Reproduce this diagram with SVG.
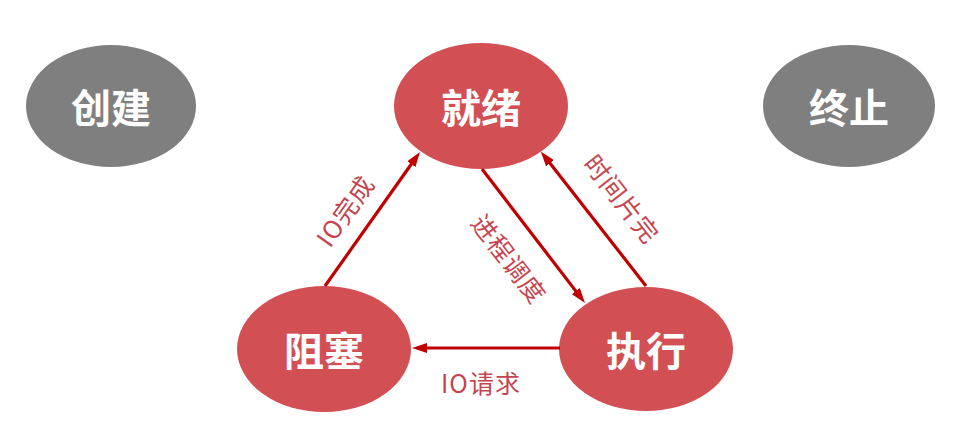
<svg xmlns="http://www.w3.org/2000/svg" width="969" height="429" viewBox="0 0 969 429">
<defs>
<style>
.gray{fill:#7f7f7f}
.red{fill:#d24f54}
.nt{font-family:"Noto Sans CJK SC","Noto Sans",sans-serif;font-weight:bold;font-size:40px;fill:#ffffff;text-anchor:middle;dominant-baseline:central}
.lbl{font-family:"Noto Sans CJK SC","Noto Sans",sans-serif;font-weight:normal;font-size:25px;letter-spacing:1px;fill:#c4454f;text-anchor:middle;dominant-baseline:central}
.edge{stroke:#c00000;stroke-width:3.2;fill:none;marker-end:url(#ah)}
</style>
<marker id="ah" markerUnits="userSpaceOnUse" markerWidth="15" markerHeight="10" refX="6" refY="5" orient="auto">
<path d="M0,0 L15,5 L0,10 z" fill="#c00000"/>
</marker>
</defs>
<rect width="969" height="429" fill="#ffffff"/>
<g id="create"><ellipse class="gray" cx="111" cy="106" rx="85" ry="61"/><text class="nt" x="111" y="106">创建</text></g>
<g id="ready"><ellipse class="red" cx="481" cy="106" rx="87" ry="63"/><text class="nt" x="481" y="106">就绪</text></g>
<g id="terminate"><ellipse class="gray" cx="849" cy="106" rx="86" ry="61"/><text class="nt" x="849" y="106">终止</text></g>
<g id="blocked"><ellipse class="red" cx="324" cy="349" rx="87" ry="63"/><text class="nt" x="324" y="349">阻塞</text></g>
<g id="running"><ellipse class="red" cx="646" cy="349" rx="87" ry="62"/><text class="nt" x="646" y="349">执行</text></g>
<g id="connectors">
<line class="edge" x1="325" y1="286" x2="414.8" y2="159.3"/>
<line class="edge" x1="482" y1="169" x2="579.5" y2="295.9"/>
<line class="edge" x1="646" y1="286" x2="546.3" y2="158.5"/>
<line class="edge" x1="560" y1="348" x2="421" y2="348"/>
<text class="lbl" x="344" y="210" transform="rotate(-54.7 344 210)">IO完成</text>
<text class="lbl" x="510" y="258" transform="rotate(52.4 510 258)">进程调度</text>
<text class="lbl" x="623" y="198" transform="rotate(52 623 198)">时间片完</text>
<text class="lbl" x="481" y="382">IO请求</text>
</g>
</svg>
